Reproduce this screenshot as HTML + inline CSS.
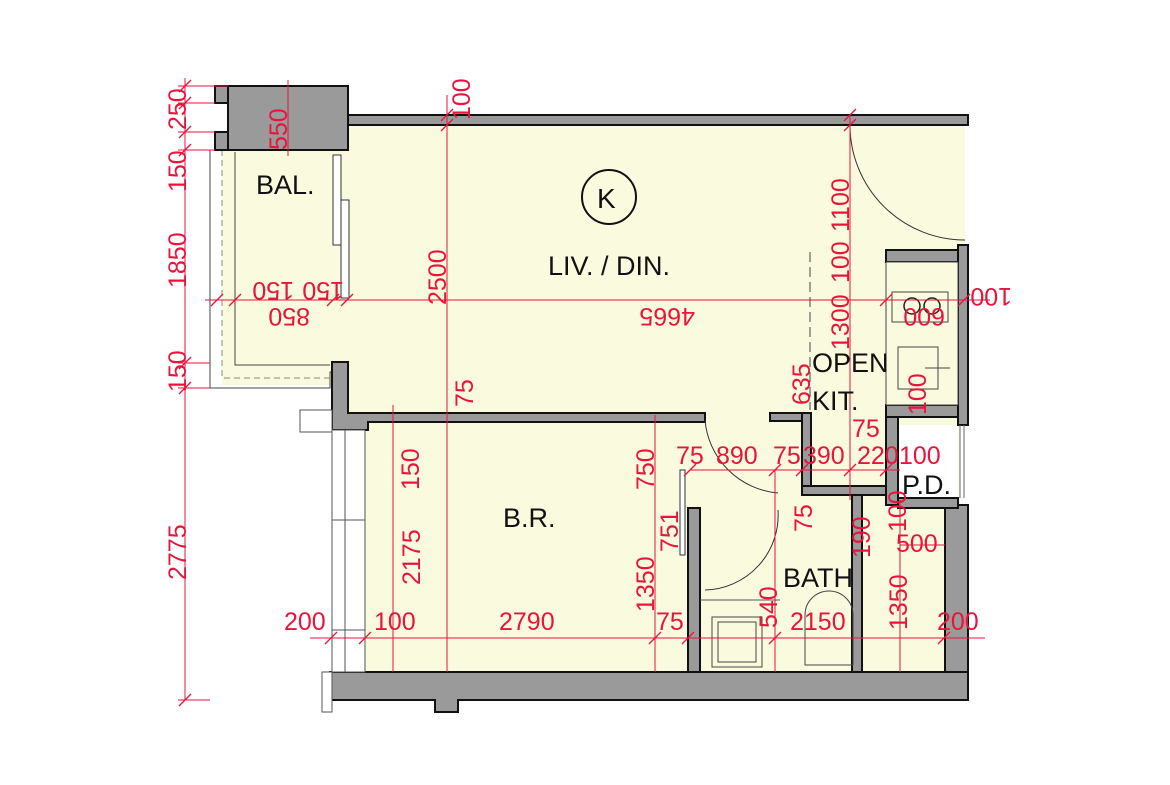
<!DOCTYPE html>
<html><head><meta charset="utf-8"><style>
html,body{margin:0;padding:0;background:#fff;}
svg{display:block}
.d{fill:#e8143c;font-family:"Liberation Sans",sans-serif;font-size:25px}
.l{fill:#111;font-family:"Liberation Sans",sans-serif;font-size:27px}
.r{stroke:#e8143c;stroke-width:1;fill:none}
.w{fill:#9a9a9a;stroke:#111;stroke-width:2}
</style></head><body>
<svg width="1170" height="785" viewBox="0 0 1170 785" xmlns="http://www.w3.org/2000/svg">
<rect x="345" y="125" width="620" height="290" fill="#fafadf"/>
<rect x="345" y="415" width="345" height="258" fill="#fafadf"/>
<rect x="690" y="415" width="270" height="258" fill="#fafadf"/>
<rect x="222" y="150" width="125" height="235" fill="#fafadf"/>
<rect x="898" y="425" width="60" height="75" fill="#fff"/>
<path d="M210 150 V388 H330 V372 H345" fill="none" stroke="#444" stroke-width="1"/>
<path d="M222 150 V378 H330" fill="none" stroke="#888" stroke-width="1" stroke-dasharray="6,4"/>
<path d="M235 152 V365 H330" fill="none" stroke="#444" stroke-width="1"/>
<rect x="333" y="155" width="8" height="90" fill="#fff" stroke="#333"/>
<rect x="341" y="200" width="8" height="98" fill="#fff" stroke="#333"/>
<rect class="w" x="228" y="86" width="120" height="64"/>
<rect class="w" x="215" y="86" width="13" height="17"/>
<rect class="w" x="215" y="132" width="13" height="18"/>
<rect class="w" x="348" y="115" width="620" height="10"/>
<path class="w" d="M332 362 H348 V413 H705 V422 H368 V430 H332 Z"/>
<rect class="w" x="770" y="413" width="40" height="8"/>
<rect class="w" x="802" y="413" width="9" height="82"/>
<rect class="w" x="802" y="486" width="95" height="9"/>
<rect class="w" x="886" y="250" width="72" height="12"/>
<rect class="w" x="958" y="245" width="10" height="180"/>
<rect class="w" x="886" y="405" width="72" height="12"/>
<rect class="w" x="886" y="417" width="12" height="88"/>
<rect class="w" x="852" y="495" width="10" height="180"/>
<rect class="w" x="688" y="508" width="12" height="165"/>
<rect class="w" x="945" y="505" width="23" height="195"/>
<rect class="w" x="898" y="498" width="60" height="10"/>
<path class="w" d="M330 672 H968 V700 H458 V712 H435 V700 H330 Z"/>
<rect x="332" y="430" width="33" height="242" fill="#fff" stroke="#555"/>
<line x1="345" y1="430" x2="345" y2="672" stroke="#555"/>
<line x1="332" y1="520" x2="365" y2="520" stroke="#555"/>
<line x1="332" y1="630" x2="365" y2="630" stroke="#555"/>
<rect x="322" y="672" width="10" height="40" fill="#fff" stroke="#555"/>
<rect x="300" y="410" width="32" height="22" fill="#fff" stroke="#555"/>
<rect x="886" y="262" width="72" height="143" fill="#fafadf" stroke="#444"/>
<rect x="892" y="292" width="56" height="30" fill="none" stroke="#444"/>
<circle cx="912" cy="306" r="8" fill="none" stroke="#222" stroke-width="1.5"/>
<circle cx="932" cy="306" r="8" fill="none" stroke="#222" stroke-width="1.5"/>
<rect x="898" y="347" width="40" height="42" fill="none" stroke="#444"/>
<line x1="925" y1="368" x2="950" y2="368" stroke="#444"/>
<line x1="810" y1="252" x2="810" y2="410" stroke="#444" stroke-dasharray="10,5"/>
<line x1="960" y1="425" x2="960" y2="498" stroke="#666"/>
<line x1="964" y1="425" x2="964" y2="498" stroke="#666"/>
<path d="M850 125 A115 115 0 0 0 965 240" fill="none" stroke="#333"/>
<path d="M705 420 A80 80 0 0 0 778 493" fill="none" stroke="#333"/>
<path d="M705 590 A75 75 0 0 0 778 510" fill="none" stroke="#333"/>
<rect x="680" y="470" width="5" height="85" fill="#fff" stroke="#333"/>
<line x1="700" y1="600" x2="780" y2="600" stroke="#555"/>
<rect x="712" y="617" width="50" height="50" fill="none" stroke="#444"/>
<rect x="718" y="622" width="38" height="40" fill="none" stroke="#444"/>
<path d="M805 665 V615 A24 24 0 0 1 853 615 V665 Z" fill="none" stroke="#444"/>
<g class="r">
<line x1="185" y1="78" x2="185" y2="700"/>
<line x1="178" y1="700" x2="210" y2="700"/>
<line x1="178" y1="86" x2="228" y2="86"/><line x1="178" y1="103" x2="215" y2="103"/>
<line x1="178" y1="132" x2="215" y2="132"/><line x1="178" y1="150" x2="215" y2="150"/>
<line x1="178" y1="363" x2="210" y2="363"/><line x1="178" y1="388" x2="210" y2="388"/>
<line x1="288" y1="80" x2="288" y2="156"/>
<line x1="447" y1="95" x2="447" y2="672"/>
<line x1="850" y1="115" x2="850" y2="500"/>
<line x1="205" y1="300" x2="990" y2="300"/>
<line x1="690" y1="470" x2="900" y2="470"/>
<line x1="393" y1="405" x2="393" y2="672"/>
<line x1="655" y1="415" x2="655" y2="672"/>
<line x1="310" y1="638" x2="985" y2="638"/>
<line x1="900" y1="500" x2="900" y2="672"/>
<line x1="775" y1="470" x2="775" y2="672"/>
<line x1="900" y1="545" x2="945" y2="545"/>
</g>
<g stroke="#e8143c" stroke-width="1.3">
<line x1="179" y1="92" x2="191" y2="80"/><line x1="179" y1="109" x2="191" y2="97"/>
<line x1="179" y1="138" x2="191" y2="126"/><line x1="179" y1="156" x2="191" y2="144"/>
<line x1="179" y1="369" x2="191" y2="357"/><line x1="179" y1="394" x2="191" y2="382"/>
<line x1="179" y1="706" x2="191" y2="694"/>
<line x1="441" y1="121" x2="453" y2="109"/><line x1="441" y1="131" x2="453" y2="119"/>
<line x1="844" y1="121" x2="856" y2="109"/><line x1="844" y1="131" x2="856" y2="119"/>
<line x1="211" y1="306" x2="223" y2="294"/><line x1="229" y1="306" x2="241" y2="294"/>
<line x1="327" y1="306" x2="339" y2="294"/><line x1="341" y1="306" x2="353" y2="294"/>
<line x1="958" y1="306" x2="970" y2="294"/><line x1="880" y1="306" x2="892" y2="294"/>
<line x1="325" y1="644" x2="337" y2="632"/><line x1="359" y1="644" x2="371" y2="632"/>
<line x1="649" y1="644" x2="661" y2="632"/><line x1="682" y1="644" x2="694" y2="632"/>
<line x1="769" y1="644" x2="781" y2="632"/><line x1="938" y1="644" x2="950" y2="632"/>
<line x1="684" y1="476" x2="696" y2="464"/><line x1="769" y1="476" x2="781" y2="464"/>
<line x1="796" y1="476" x2="808" y2="464"/><line x1="844" y1="476" x2="856" y2="464"/>
<line x1="880" y1="476" x2="892" y2="464"/>
</g>
<g class="d">
<text transform="translate(186,130) rotate(-90)">250</text>
<text transform="translate(186,192) rotate(-90)">150</text>
<text transform="translate(186,288) rotate(-90)">1850</text>
<text transform="translate(186,392) rotate(-90)">150</text>
<text transform="translate(186,580) rotate(-90)">2775</text>
<text transform="translate(287,150) rotate(-90)">550</text>
<text transform="translate(470,120) rotate(-90)">100</text>
<text transform="translate(446,305) rotate(-90)">2500</text>
<text transform="translate(473,407) rotate(-90)">75</text>
<text transform="translate(849,232) rotate(-90)">1100</text>
<text transform="translate(849,283) rotate(-90)">100</text>
<text transform="translate(849,350) rotate(-90)">1300</text>
<text transform="translate(810,405) rotate(-90)">635</text>
<text transform="translate(926,415) rotate(-90)">100</text>
<text x="852" y="437">75</text>
<text transform="translate(294,282) rotate(180)">150</text>
<text transform="translate(344,282) rotate(180)">150</text>
<text transform="translate(310,308) rotate(180)">850</text>
<text transform="translate(695,308) rotate(180)">4665</text>
<text transform="translate(945,308) rotate(180)">600</text>
<text transform="translate(1012,288) rotate(180)">100</text>
<text x="676" y="464">75</text>
<text x="716" y="464">890</text>
<text x="773" y="464">75</text>
<text x="803" y="464">390</text>
<text x="857" y="464">220</text>
<text x="899" y="464">100</text>
<text transform="translate(419,490) rotate(-90)">150</text>
<text transform="translate(420,585) rotate(-90)">2175</text>
<text transform="translate(654,490) rotate(-90)">750</text>
<text transform="translate(678,552) rotate(-90)">751</text>
<text transform="translate(654,612) rotate(-90)">1350</text>
<text transform="translate(812,532) rotate(-90)">75</text>
<text transform="translate(870,558) rotate(-90)">190</text>
<text transform="translate(906,532) rotate(-90)">100</text>
<text x="896" y="552">500</text>
<text transform="translate(907,630) rotate(-90)">1350</text>
<text transform="translate(777,628) rotate(-90)">540</text>
<text x="284" y="630">200</text>
<text x="374" y="630">100</text>
<text x="499" y="630">2790</text>
<text x="656" y="630">75</text>
<text x="790" y="630">2150</text>
<text x="937" y="630">200</text>
</g>
<g class="l">
<text x="256" y="194">BAL.</text>
<circle cx="609" cy="197" r="27" fill="none" stroke="#111" stroke-width="2"/>
<text x="597" y="208" style="font-size:28px">K</text>
<text x="548" y="275">LIV. / DIN.</text>
<text x="503" y="527">B.R.</text>
<text x="812" y="372">OPEN</text>
<text x="812" y="410">KIT.</text>
<text x="783" y="587">BATH</text>
<text x="902" y="494">P.D.</text>
</g>
</svg>
</body></html>
